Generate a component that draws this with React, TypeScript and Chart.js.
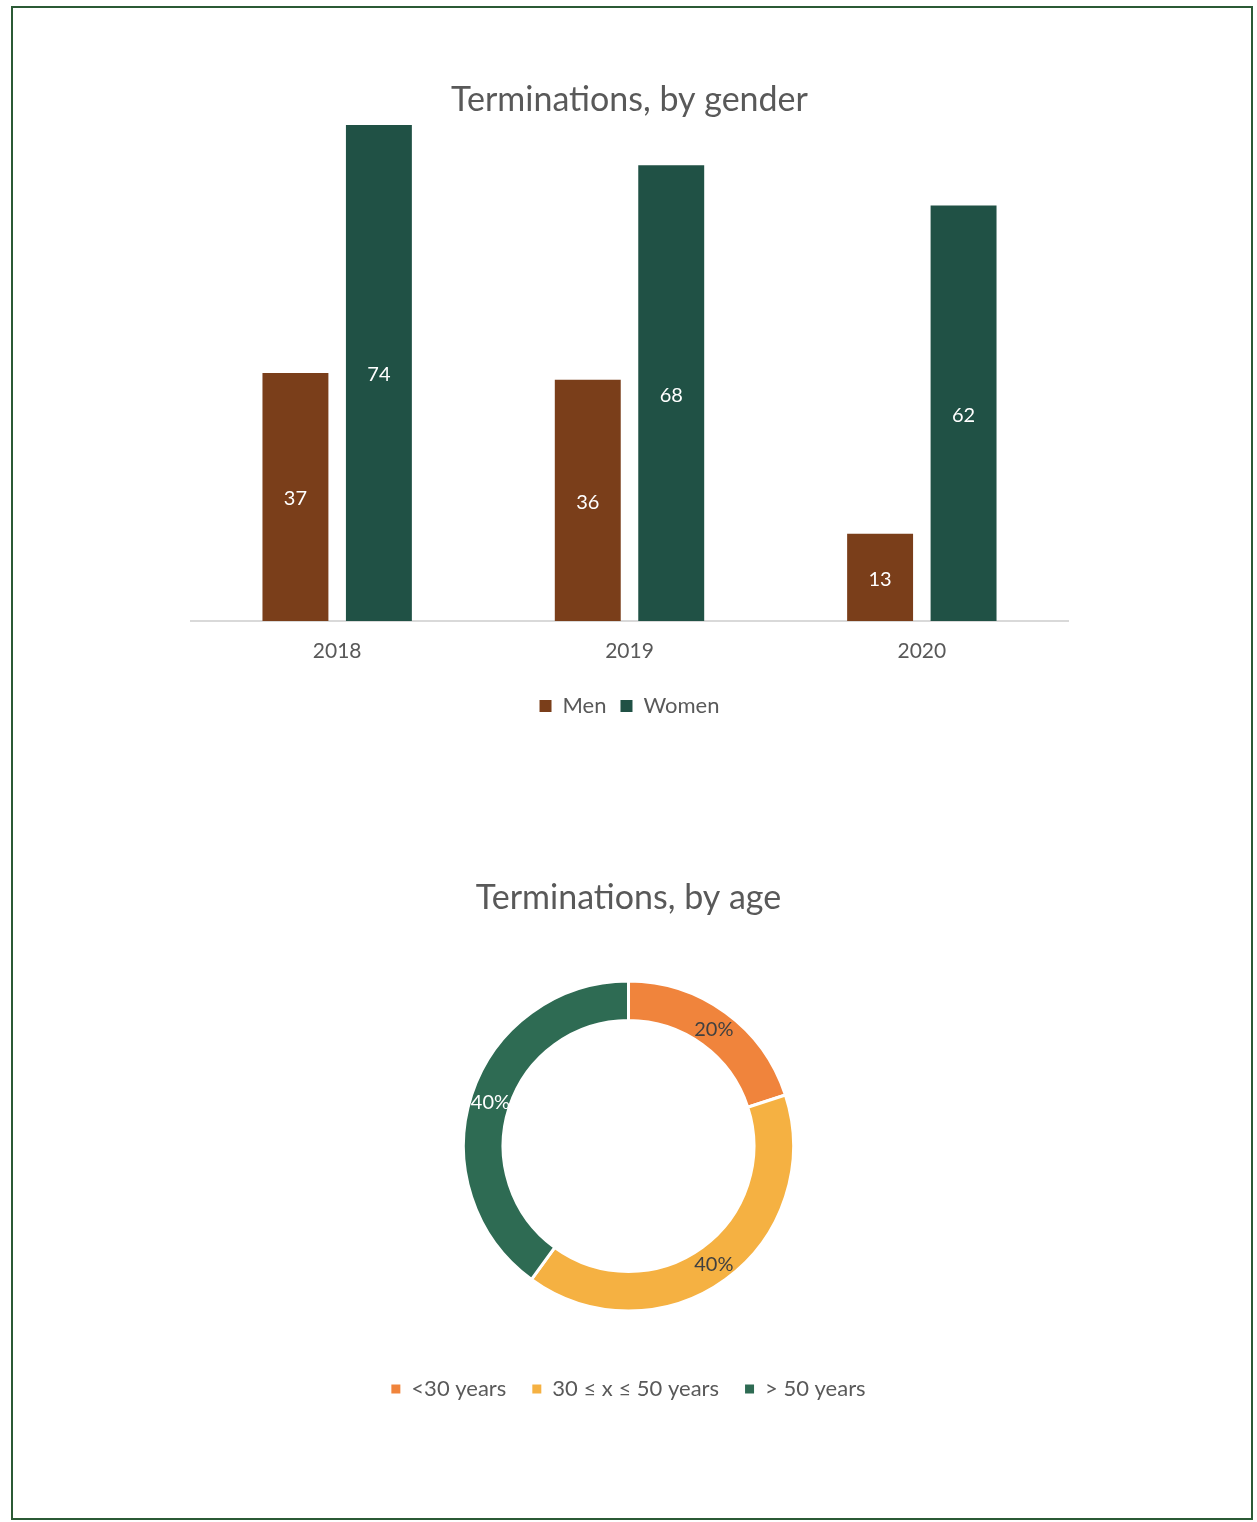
import React, { useEffect, useRef } from "react";
import { Chart, registerables } from "chart.js";

Chart.register(...registerables);

// ---- data ----
const years = ["2018", "2019", "2020"];
const menValues = [37, 36, 13];
const womenValues = [74, 68, 62];
const genderSeries = ["Men", "Women"];
const ageLabels = ["<30 years", "30 ≤ x ≤ 50 years", "> 50 years"];
const agePercents = [20, 40, 40];
const barTitle = "Terminations, by gender";
const donutTitle = "Terminations, by age";

// ---- styles ----
const FONT = "Lato, 'Open Sans', sans-serif";
const TEXT = "#595959";
const MEN_COLOR = "#7a3e1a";
const WOMEN_COLOR = "#205145";
const AGE_COLORS = ["#f0843c", "#f5b142", "#2e6b53"];
const AGE_LABEL_COLORS = ["#404040", "#404040", "#ffffff"];

const barLabelPlugin = {
  id: "barLabelPlugin",
  afterDatasetsDraw(chart: any) {
    const ctx = chart.ctx;
    ctx.save();
    ctx.font = `20px ${FONT}`;
    ctx.fillStyle = "#ffffff";
    ctx.textAlign = "center";
    ctx.textBaseline = "middle";
    chart.data.datasets.forEach((ds: any, i: number) => {
      const meta = chart.getDatasetMeta(i);
      meta.data.forEach((el: any, j: number) => {
        const p = el.getProps(["x", "y", "base"], true);
        ctx.fillText(String(ds.data[j]), p.x, (p.y + p.base) / 2 + 2);
      });
    });
    ctx.restore();
  },
};

const donutLabelPlugin = {
  id: "donutLabelPlugin",
  afterDatasetsDraw(chart: any) {
    const ctx = chart.ctx;
    ctx.save();
    ctx.font = `20px ${FONT}`;
    ctx.textAlign = "center";
    ctx.textBaseline = "middle";
    const ds = chart.data.datasets[0];
    const meta = chart.getDatasetMeta(0);
    meta.data.forEach((el: any, j: number) => {
      const pos = el.tooltipPosition(true);
      ctx.fillStyle = AGE_LABEL_COLORS[j];
      ctx.fillText(`${ds.data[j]}%`, pos.x, pos.y + 1);
    });
    ctx.restore();
  },
};

function BarChart() {
  const ref = useRef<HTMLCanvasElement>(null);
  useEffect(() => {
    if (!ref.current) return;
    const chart = new Chart(ref.current, {
      type: "bar",
      data: {
        labels: years,
        datasets: [
          { label: genderSeries[0], data: menValues, backgroundColor: MEN_COLOR, borderWidth: 0 },
          { label: genderSeries[1], data: womenValues, backgroundColor: WOMEN_COLOR, borderWidth: 0 },
        ],
      },
      options: {
        responsive: false,
        animation: false,
        devicePixelRatio: 1,
        layout: { padding: { left: 191, right: 189, top: 0, bottom: 33 } },
        datasets: { bar: { categoryPercentage: 0.571, barPercentage: 0.79 } } as any,
        scales: {
          x: {
            grid: { display: false, drawTicks: false },
            border: { display: true, color: "#d9d9d9", width: 2 },
            ticks: { color: TEXT, font: { family: FONT, size: 21 }, padding: 17.4 },
          },
          y: { display: false, min: 0, max: 74 },
        },
        plugins: {
          title: {
            display: true,
            text: barTitle,
            color: TEXT,
            font: { family: FONT, size: 34, weight: "normal" as any },
            padding: { top: 80, bottom: 4.2 },
          },
          legend: {
            position: "bottom",
            labels: {
              color: TEXT,
              font: { family: FONT, size: 22 },
              boxWidth: 12,
              boxHeight: 12,
              padding: 14,
            },
          },
          tooltip: { enabled: false },
        },
      },
      plugins: [barLabelPlugin],
    });
    return () => chart.destroy();
  }, []);
  return (
    <canvas
      ref={ref}
      width={1257}
      height={760}
      style={{ position: "absolute", left: 0, top: 0, width: 1257, height: 760 }}
    />
  );
}

function DonutChart() {
  const ref = useRef<HTMLCanvasElement>(null);
  useEffect(() => {
    if (!ref.current) return;
    const chart = new Chart(ref.current, {
      type: "doughnut",
      data: {
        labels: ageLabels,
        datasets: [
          {
            data: agePercents,
            backgroundColor: AGE_COLORS,
            borderColor: "#ffffff",
            borderWidth: 3,
            radius: 165,
            cutout: "76%",
          } as any,
        ],
      },
      options: {
        responsive: false,
        animation: false,
        devicePixelRatio: 1,
        layout: { padding: { left: 0, right: 0, top: 0, bottom: 112 } },
        plugins: {
          title: {
            display: true,
            text: donutTitle,
            color: TEXT,
            font: { family: FONT, size: 34, weight: "normal" as any },
            padding: { top: 117.6, bottom: 21.6 },
          },
          legend: {
            position: "bottom",
            labels: {
              color: TEXT,
              font: { family: FONT, size: 22 },
              boxWidth: 9,
              boxHeight: 9,
              padding: 26,
              generateLabels: (c: any) => {
                const base = (Chart as any).overrides.doughnut.plugins.legend.labels.generateLabels(c);
                return base.map((it: any) => ({ ...it, lineWidth: 0, strokeStyle: "rgba(0,0,0,0)" }));
              },
            },
          },
          tooltip: { enabled: false },
        },
      },
      plugins: [donutLabelPlugin],
    });
    return () => chart.destroy();
  }, []);
  return (
    <canvas
      ref={ref}
      width={1257}
      height={762}
      style={{ position: "absolute", left: 0, top: 760, width: 1257, height: 762 }}
    />
  );
}

export default function App() {
  return (
    <div
      style={{
        position: "absolute",
        left: 0,
        top: 0,
        width: 1257,
        height: 1522,
        background: "#ffffff",
        overflow: "hidden",
      }}
    >
      <div
        style={{
          position: "absolute",
          left: 11,
          top: 6,
          width: 1242,
          height: 1514,
          boxSizing: "border-box",
          border: "2px solid #2b5a35",
        }}
      />
      <BarChart />
      <DonutChart />
    </div>
  );
}
